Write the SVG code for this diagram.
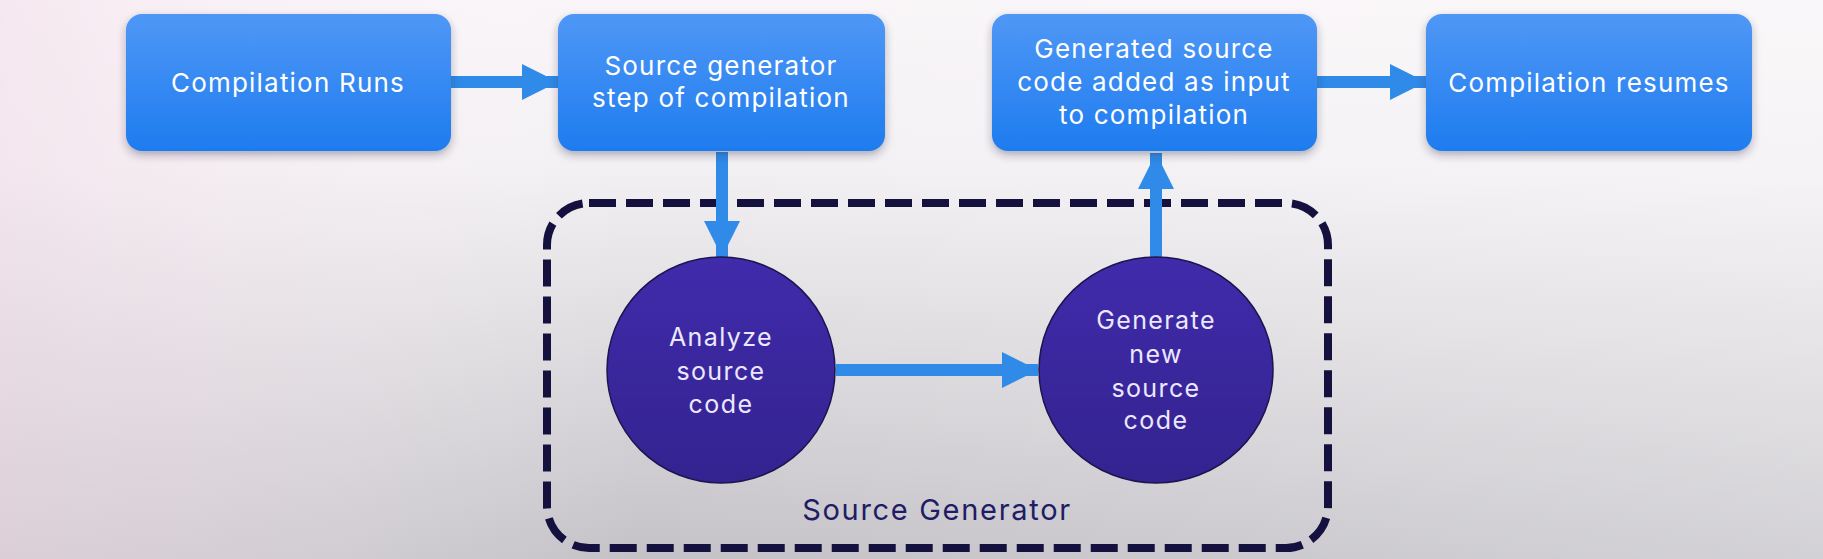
<svg xmlns="http://www.w3.org/2000/svg" width="1823" height="559" viewBox="0 0 1823 559">
<defs>
<linearGradient id="bgv" x1="0" y1="0" x2="0" y2="1">
<stop offset="0" stop-color="#f9f5f8"/>
<stop offset="0.3" stop-color="#f3f0f3"/>
<stop offset="1" stop-color="#c4c2c7"/>
</linearGradient>
<linearGradient id="bgh" x1="0" y1="0" x2="1" y2="0">
<stop offset="0" stop-color="#f3dbe8" stop-opacity="0.5"/>
<stop offset="0.35" stop-color="#ffffff" stop-opacity="0"/>
<stop offset="1" stop-color="#ffffff" stop-opacity="0.25"/>
</linearGradient>
<linearGradient id="box" x1="0" y1="0" x2="0" y2="1">
<stop offset="0" stop-color="#4f97f6"/>
<stop offset="1" stop-color="#1e7cef"/>
</linearGradient>
<linearGradient id="circ" x1="0" y1="0" x2="0" y2="1">
<stop offset="0" stop-color="#402bab"/>
<stop offset="1" stop-color="#33238f"/>
</linearGradient>
<filter id="sh" x="-10%" y="-10%" width="120%" height="130%">
<feDropShadow dx="0" dy="4" stdDeviation="4" flood-color="#2a2a40" flood-opacity="0.35"/>
</filter>
<marker id="ah" viewBox="0 0 36 36" refX="36" refY="18" markerWidth="36" markerHeight="36" markerUnits="userSpaceOnUse" orient="auto">
<path d="M0,0 L36,18 L0,36 Z" fill="#2f8ae8"/>
</marker>
<style>
.box{fill:url(#box);filter:url(#sh)}
.btxt{font-family:Inter,"Noto Sans",sans-serif;font-size:26px;letter-spacing:1.2px;fill:#ffffff;text-anchor:middle}
.circle{fill:url(#circ);stroke:#1c1550;stroke-width:1.5}
.ctxt{font-family:Inter,"Noto Sans",sans-serif;font-size:25px;letter-spacing:1.4px;fill:#ece8ff;text-anchor:middle}
.conn{stroke:#2f8ae8;stroke-width:12;fill:none;marker-end:url(#ah)}
.group{fill:none;stroke:#15113f;stroke-width:8;stroke-dasharray:27 10}
.gtxt{font-family:Inter,"Noto Sans",sans-serif;font-size:29px;letter-spacing:1.7px;fill:#201c66;text-anchor:middle}
</style>
</defs>
<rect width="1823" height="559" fill="url(#bgv)"/>
<rect width="1823" height="559" fill="url(#bgh)"/>

<g id="source-generator-group">
<rect class="group" x="547" y="203" width="781" height="345" rx="42"/>
<text class="gtxt" x="937" y="520">Source Generator</text>
</g>

<g id="connectors">
<line class="conn" x1="451" y1="82" x2="558" y2="82"/>
<line class="conn" x1="722" y1="152" x2="722" y2="257"/>
<line class="conn" x1="836" y1="370" x2="1038" y2="370"/>
<line class="conn" x1="1156" y1="257" x2="1156" y2="153"/>
<line class="conn" x1="1317" y1="82" x2="1426" y2="82"/>
</g>

<g id="compilation-runs">
<rect class="box" x="126" y="14" width="325" height="137" rx="16"/>
<text class="btxt" x="288" y="92">Compilation Runs</text>
</g>
<g id="source-generator-step">
<rect class="box" x="558" y="14" width="327" height="137" rx="16"/>
<text class="btxt" x="721" y="75">Source generator</text>
<text class="btxt" x="721" y="107">step of compilation</text>
</g>
<g id="generated-source-added">
<rect class="box" x="992" y="14" width="325" height="137" rx="16"/>
<text class="btxt" x="1154" y="58">Generated source</text>
<text class="btxt" x="1154" y="91">code added as input</text>
<text class="btxt" x="1154" y="124">to compilation</text>
</g>
<g id="compilation-resumes">
<rect class="box" x="1426" y="14" width="326" height="137" rx="16"/>
<text class="btxt" x="1589" y="92">Compilation resumes</text>
</g>

<g id="analyze-source-code">
<ellipse class="circle" cx="721" cy="370" rx="114" ry="113"/>
<text class="ctxt" x="721" y="346">Analyze</text>
<text class="ctxt" x="721" y="380">source</text>
<text class="ctxt" x="721" y="413">code</text>
</g>
<g id="generate-new-source-code">
<ellipse class="circle" cx="1156" cy="370" rx="117" ry="113"/>
<text class="ctxt" x="1156" y="329">Generate</text>
<text class="ctxt" x="1156" y="363">new</text>
<text class="ctxt" x="1156" y="397">source</text>
<text class="ctxt" x="1156" y="429">code</text>
</g>
</svg>
